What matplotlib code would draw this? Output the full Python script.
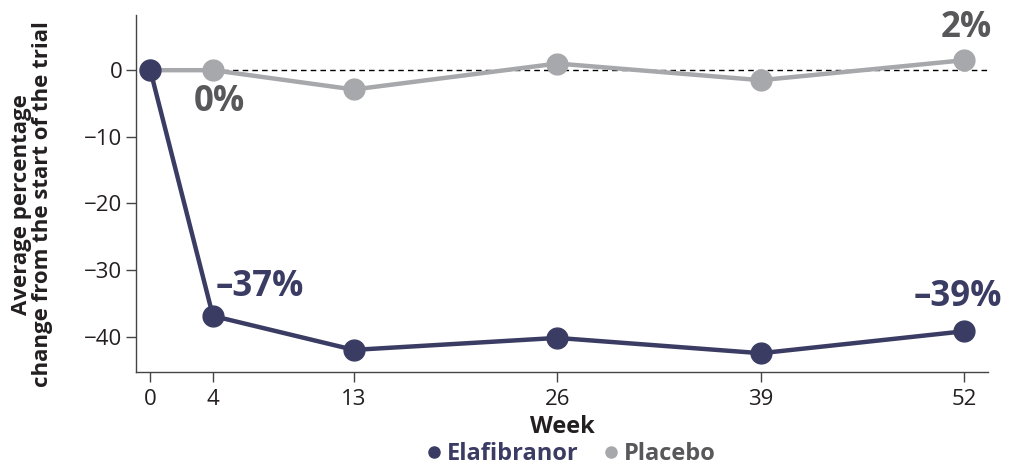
import matplotlib

matplotlib.use("Agg")

import matplotlib.pyplot as plt
from matplotlib.lines import Line2D

WEEKS = [0, 4, 13, 26, 39, 52]
ELAFIBRANOR = [0.0, -36.9, -42.0, -40.2, -42.5, -39.2]
PLACEBO = [0.0, 0.0, -2.9, 1.0, -1.5, 1.5]
Y_TICKS = [0, -10, -20, -30, -40]
Y_TICK_LABELS = ["0", "\u221210", "\u221220", "\u221230", "\u221240"]

NAVY = "#3b3c63"
GREY = "#a7a8ab"
DARK_GREY = "#58585a"
TEXT = "#231f20"

plt.rcParams.update(
    {
        "font.family": ["Open Sans", "DejaVu Sans"],
        "axes.linewidth": 1.0,
        "xtick.labelsize": 16,
        "ytick.labelsize": 16,
    }
)

fig = plt.figure(figsize=(10.09, 4.66), dpi=100)
ax = fig.add_axes([0.135, 0.202, 0.844, 0.766])

ax.plot([4, 53.5], [0, 0], color="black", linestyle=(0, (4, 3)), linewidth=1.0, zorder=1)

ax.plot(WEEKS, PLACEBO, color=GREY, linewidth=3.2, marker="o", markersize=15,
        zorder=3, solid_capstyle="round")
ax.plot(WEEKS, ELAFIBRANOR, color=NAVY, linewidth=3.2, marker="o", markersize=15,
        zorder=4, solid_capstyle="round")

ax.text(WEEKS[1] + 0.4, PLACEBO[1] - 2.0, "0%", color=DARK_GREY, fontsize=25,
        fontweight="bold", ha="center", va="top")
ax.text(WEEKS[-1] + 0.1, PLACEBO[-1] + 2.2, "2%", color=DARK_GREY, fontsize=25,
        fontweight="bold", ha="center", va="bottom")
ax.text(WEEKS[1] + 0.2, ELAFIBRANOR[1] + 1.6, "\u201337%", color=NAVY, fontsize=25,
        fontweight="bold", ha="left", va="bottom")
ax.text(WEEKS[-1] - 0.4, ELAFIBRANOR[-1] + 2.4, "\u201339%", color=NAVY, fontsize=25,
        fontweight="bold", ha="center", va="bottom")

ax.set_xlim(-0.9, 53.5)
ax.set_ylim(-45.3, 8.3)
ax.set_xticks(WEEKS)
ax.set_xticklabels([str(w) for w in WEEKS], color=TEXT)
ax.set_yticks(Y_TICKS)
ax.set_yticklabels(Y_TICK_LABELS, color=TEXT)
ax.tick_params(axis="both", direction="out", length=7, width=1.0, color="#444444", pad=3)
ax.tick_params(axis="x", pad=5)

for side in ["top", "right"]:
    ax.spines[side].set_visible(False)
for side in ["left", "bottom"]:
    ax.spines[side].set_color("#444444")

ax.set_xlabel("Week", fontsize=17, fontweight="bold", color=TEXT, labelpad=4)
ax.set_ylabel("Average percentage\nchange from the start of the trial", fontsize=16,
              fontweight="bold", color=TEXT, labelpad=8, linespacing=1.0)
ax.yaxis.set_label_coords(-0.098, 0.47)

handles = [
    Line2D([], [], linestyle="none", marker="o", markersize=8, color=NAVY),
    Line2D([], [], linestyle="none", marker="o", markersize=8, color=GREY),
]
legend = fig.legend(
    handles,
    ["Elafibranor", "Placebo"],
    loc="center",
    bbox_to_anchor=(0.565, 0.026),
    ncol=2,
    frameon=False,
    prop={"size": 17, "weight": "bold"},
    handletextpad=0.15,
    columnspacing=1.0,
    handlelength=0.8,
)
legend.get_texts()[0].set_color(NAVY)
legend.get_texts()[1].set_color(DARK_GREY)

fig.savefig("out.png", dpi=100, facecolor="white")
